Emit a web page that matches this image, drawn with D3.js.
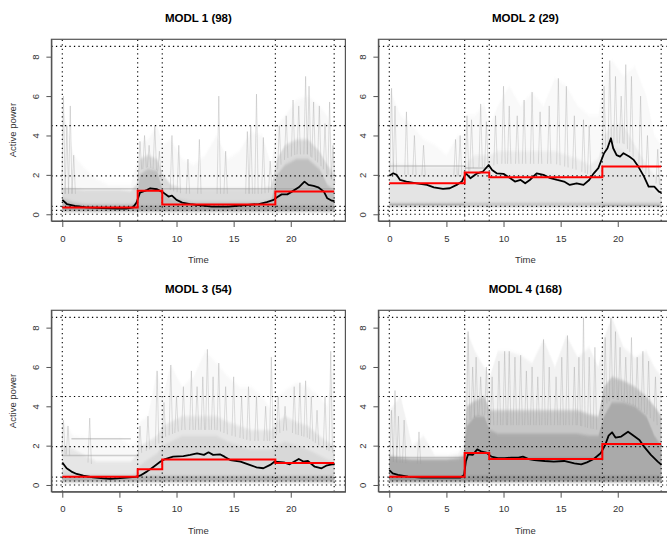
<!DOCTYPE html>
<html>
<head>
<meta charset="utf-8">
<script src="https://cdn.jsdelivr.net/npm/d3@7"></script>
<style>
body{margin:0;background:#fff;}
svg{display:block;font-family:"Liberation Sans",Arial,sans-serif;}
</style>
</head>
<body>
<script>
// etiquetas y ejes
var panelNames = ["MODL 1 (98)", "MODL 2 (29)", "MODL 3 (54)", "MODL 4 (168)"];
var timeTicks = [0, 5, 10, 15, 20];
var powerTicks = [0, 2, 4, 6, 8];
var timeRange = [0, 23.83];
var powerRange = [0, 8.54];
var vCuts = [0, 6.6, 8.75, 18.65, 23.8];
var hCuts = [0, 0.2, 0.4, 1.95, 4.5, 8.52];

// nivel del escalon rojo en cada tramo
var step1 = [0.34, 1.2, 0.49, 1.15];
var step2 = [1.57, 2.12, 1.88, 2.42];
var step3 = [0.42, 0.8, 1.3, 1.12];
var step4 = [0.42, 1.62, 1.32, 2.08];

// curva media (negra): [hora, potencia]
var mean1 = [[0,0.73],[0.4,0.52],[1.1,0.42],[2.1,0.35],[3.5,0.31],[4.8,0.29],[5.6,0.29],[6.2,0.35],[6.5,0.6],[6.8,1.1],[7.4,1.23],[7.7,1.32],[8.3,1.27],[8.85,1.1],[9.3,0.9],[9.6,0.95],[10.0,0.73],[10.5,0.59],[11.2,0.52],[12.1,0.45],[13.1,0.39],[14.5,0.39],[15.1,0.42],[16.0,0.46],[17.2,0.52],[17.9,0.62],[18.5,0.73],[18.8,0.86],[19.2,1.01],[19.7,1.01],[20.1,1.15],[20.7,1.37],[21.2,1.66],[21.55,1.49],[22.0,1.44],[22.4,1.37],[22.9,1.15],[23.2,0.81],[23.6,0.69],[23.83,0.67]];
var mean2 = [[0,1.95],[0.35,2.08],[0.64,2.0],[0.94,1.74],[1.5,1.66],[2.4,1.57],[3.3,1.49],[3.9,1.37],[4.7,1.29],[5.3,1.32],[5.9,1.49],[6.35,1.66],[6.7,2.08],[7.1,1.83],[7.7,2.08],[8.2,2.17],[8.7,2.5],[9.0,2.25],[9.4,2.08],[10.0,2.05],[10.6,1.83],[11.0,1.66],[11.5,1.74],[11.9,1.57],[12.3,1.74],[12.9,2.08],[13.5,2.0],[14.1,1.83],[14.7,1.74],[15.3,1.66],[15.8,1.49],[16.4,1.57],[17.0,1.49],[17.5,1.74],[17.9,2.08],[18.3,2.34],[18.8,3.1],[19.1,3.35],[19.4,3.86],[19.6,3.35],[19.9,3.0],[20.2,2.93],[20.5,3.1],[21.0,2.93],[21.4,2.76],[21.8,2.42],[22.3,1.91],[22.7,1.4],[23.2,1.4],[23.6,1.15],[23.83,1.1]];
var mean3 = [[0,1.14],[0.38,0.85],[0.8,0.68],[1.26,0.56],[1.84,0.47],[2.7,0.39],[3.6,0.34],[4.2,0.31],[4.8,0.34],[5.6,0.37],[6.4,0.41],[6.8,0.47],[7.4,0.68],[8.0,0.93],[8.6,1.19],[9.0,1.32],[9.7,1.44],[10.6,1.47],[11.2,1.53],[11.8,1.61],[12.4,1.53],[12.8,1.66],[13.2,1.53],[13.8,1.56],[14.2,1.44],[14.7,1.27],[15.6,1.19],[16.4,1.02],[17.0,0.9],[17.6,0.85],[18.2,1.02],[18.6,1.19],[19.4,1.15],[19.9,1.05],[20.7,1.32],[21.1,1.19],[21.5,1.22],[22.1,0.93],[22.7,0.85],[23.1,0.98],[23.6,1.05],[23.83,1.05]];
var mean4 = [[0,0.76],[0.3,0.59],[0.76,0.51],[1.64,0.42],[2.8,0.37],[4.9,0.37],[6.2,0.37],[6.55,0.51],[6.7,1.19],[6.9,1.56],[7.3,1.53],[7.7,1.81],[8.1,1.69],[8.5,1.64],[8.95,1.44],[9.5,1.36],[10.1,1.36],[10.7,1.39],[11.3,1.39],[11.7,1.44],[12.2,1.32],[12.7,1.27],[13.6,1.22],[14.4,1.19],[15.3,1.22],[16.2,1.1],[16.8,1.05],[17.3,1.15],[17.9,1.32],[18.5,1.61],[18.9,2.03],[19.2,2.51],[19.5,2.68],[19.8,2.41],[20.3,2.46],[20.9,2.71],[21.3,2.54],[21.9,2.29],[22.3,1.95],[22.9,1.53],[23.5,1.19],[23.83,1.02]];

// nube de perfiles individuales (gris): limites
var cloudT  = [0, 1, 2, 3, 4, 5, 6, 6.5, 6.8, 7.5, 8.3, 8.8, 9.5, 10.5, 11.5, 12.5, 13.5, 14.5, 15.5, 16.5, 17.5, 18.3, 18.8, 19.5, 20.5, 21.5, 22.5, 23.2, 23.83];
var core1   = [0.8, 0.6, 0.5, 0.5, 0.5, 0.5, 0.5, 0.6, 2.0, 2.3, 2.2, 1.2, 0.8, 0.7, 0.6, 0.6, 0.6, 0.6, 0.6, 0.6, 0.6, 0.7, 2.0, 2.5, 2.8, 2.8, 2.3, 1.5, 1.2];
var dense1  = [1.3, 1.3, 1.25, 1.25, 1.25, 1.25, 1.2, 1.5, 2.8, 3.0, 2.8, 2.0, 1.5, 1.3, 1.3, 1.3, 1.3, 1.3, 1.3, 1.3, 1.3, 1.4, 2.8, 3.5, 3.8, 3.8, 3.2, 2.5, 2.0];
var sparse1 = [5.5, 3.0, 2.3, 1.8, 1.5, 1.5, 1.5, 2.5, 3.7, 3.8, 4.5, 3.5, 3.8, 2.8, 2.5, 3.0, 4.0, 2.8, 3.2, 4.2, 4.0, 2.5, 4.5, 5.0, 5.8, 6.0, 5.5, 5.0, 3.0];
var core2   = [1.8, 1.8, 1.6, 1.5, 1.5, 1.5, 1.5, 1.6, 2.0, 2.2, 2.2, 2.0, 2.0, 2.0, 2.0, 2.0, 2.0, 2.0, 1.8, 1.8, 1.8, 2.0, 3.0, 3.5, 3.2, 2.5, 1.6, 1.2, 1.0];
var dense2  = [2.6, 2.5, 2.5, 2.4, 2.4, 2.4, 2.4, 2.4, 2.6, 3.0, 3.0, 3.0, 3.2, 3.2, 3.2, 3.2, 3.2, 3.2, 3.0, 2.8, 2.5, 2.8, 4.0, 4.5, 4.5, 3.5, 2.5, 2.0, 1.8];
var sparse2 = [6.4, 5.0, 4.5, 3.8, 3.5, 3.0, 4.0, 4.0, 5.0, 5.0, 5.6, 4.5, 5.5, 6.5, 5.5, 6.2, 5.5, 6.9, 6.5, 5.5, 5.0, 5.0, 7.0, 7.8, 7.0, 7.5, 6.0, 4.0, 3.5];
var core3   = [0.8, 0.6, 0.5, 0.5, 0.5, 0.5, 0.5, 0.6, 1.0, 1.3, 1.6, 2.0, 2.2, 2.5, 2.5, 2.5, 2.5, 2.2, 2.0, 1.8, 1.8, 1.8, 2.0, 2.2, 2.0, 1.8, 1.5, 1.3, 1.2];
var dense3  = [2.0, 1.8, 1.5, 1.2, 1.2, 1.2, 1.2, 1.5, 2.0, 2.2, 2.5, 3.0, 3.2, 3.5, 3.5, 3.5, 3.5, 3.2, 3.0, 2.8, 2.8, 2.8, 3.2, 3.5, 3.2, 3.0, 2.5, 2.2, 2.0];
var sparse3 = [3.3, 2.5, 2.4, 2.4, 2.4, 2.4, 2.0, 2.2, 3.2, 3.5, 5.8, 4.5, 6.1, 5.0, 5.5, 6.8, 6.2, 5.5, 5.0, 5.0, 4.5, 3.8, 4.5, 4.8, 5.2, 5.0, 4.5, 4.0, 6.5];
var core4   = [1.4, 1.35, 1.3, 1.3, 1.3, 1.3, 1.35, 1.4, 3.0, 3.5, 3.5, 2.8, 2.6, 2.6, 2.6, 2.6, 2.6, 2.6, 2.6, 2.6, 2.5, 2.5, 3.5, 4.2, 4.2, 4.0, 3.5, 2.5, 2.0];
var dense4  = [1.5, 1.4, 1.35, 1.35, 1.35, 1.35, 1.4, 1.5, 4.0, 4.3, 4.5, 3.8, 3.8, 3.8, 3.8, 3.8, 3.8, 3.8, 3.8, 3.8, 3.6, 3.5, 5.0, 5.5, 5.3, 5.0, 4.5, 4.0, 3.5];
var sparse4 = [3.8, 4.5, 2.0, 2.5, 1.5, 1.5, 1.6, 2.0, 7.8, 6.8, 6.0, 5.5, 6.8, 6.8, 6.6, 6.2, 7.4, 6.0, 7.6, 6.5, 7.0, 6.0, 7.5, 8.5, 7.0, 6.5, 6.8, 6.0, 5.5];

// picos aislados: [hora, maximo]
var spikes1 = [[0.1,6.0],[0.4,4.5],[0.7,5.5],[1.0,3.0],[6.8,3.7],[7.2,4.0],[7.6,3.5],[8.1,4.5],[8.5,3.2],[9.6,4.0],[10.2,3.5],[11.0,2.8],[12.0,3.8],[13.7,6.0],[14.3,3.2],[16.2,4.2],[16.5,4.5],[17.0,6.1],[17.6,3.9],[18.2,2.7],[19.0,4.5],[19.6,5.0],[20.2,5.8],[20.7,5.5],[21.3,7.0],[21.6,6.5],[22.0,5.7],[22.5,5.5],[23.0,4.6],[23.4,5.7],[23.7,3.5]];
var spikes2 = [[0.2,6.4],[0.5,5.5],[1.5,5.2],[2.2,4.0],[3.0,3.5],[5.8,3.8],[6.2,4.0],[6.8,5.0],[7.2,4.8],[8.0,5.6],[8.5,4.7],[9.3,5.0],[10.0,6.5],[10.5,5.5],[11.2,5.0],[11.8,5.8],[12.5,6.2],[13.2,5.2],[14.0,5.5],[14.8,6.9],[15.5,6.5],[16.2,5.0],[17.0,4.8],[17.5,4.5],[18.8,6.5],[19.3,7.8],[19.8,7.0],[20.3,6.0],[20.7,7.6],[21.2,7.0],[22.0,6.0],[22.6,4.0],[23.5,3.3]];
var spikes3 = [[0.1,3.3],[0.5,3.0],[2.4,3.4],[6.8,3.0],[7.5,3.5],[8.3,5.8],[8.9,4.2],[9.5,6.1],[10.0,4.5],[10.6,5.0],[11.3,5.8],[11.8,5.0],[12.3,5.5],[12.7,6.9],[13.2,5.5],[13.7,6.2],[14.3,5.0],[15.0,5.5],[15.7,4.5],[16.3,5.0],[17.0,4.5],[17.8,4.0],[18.3,6.5],[18.9,4.5],[19.5,4.0],[20.3,5.0],[20.8,5.2],[21.3,5.3],[21.8,4.5],[22.3,3.8],[23.0,4.5],[23.5,6.8]];
var spikes4 = [[0.2,3.8],[0.5,4.8],[0.8,3.5],[1.3,3.3],[2.6,2.7],[6.9,7.8],[7.3,6.0],[7.6,6.5],[8.0,5.5],[8.5,6.0],[9.0,5.5],[9.6,6.3],[10.1,6.8],[10.5,6.8],[11.0,6.5],[11.5,6.6],[12.0,5.8],[12.5,6.0],[13.0,5.5],[13.5,7.4],[14.0,6.0],[14.6,5.5],[15.1,6.5],[15.6,7.6],[16.2,6.0],[16.6,6.5],[17.0,8.5],[17.5,6.5],[18.0,7.0],[18.9,7.5],[19.4,8.5],[19.8,7.8],[20.2,7.0],[20.7,6.5],[21.2,7.5],[21.7,6.5],[22.2,6.8],[22.7,6.3],[23.3,5.5]];

// perfiles casi constantes: [desde, hasta, potencia]
var flat1 = [[0,6.6,1.3],[8.75,18.65,1.3],[18.65,23.8,1.3]];
var flat2 = [[0,6.6,2.45],[6.6,8.75,2.35],[0,6.6,0.5],[18.65,23.8,0.45]];
var flat3 = [[0.8,6.0,2.35],[0,6.6,1.5]];
var flat4 = [[0,6.6,1.4],[8.75,18.65,1.4]];

// piso de la nube
var floorLo = [0.15, 0.4, 0.15, 0.15];
var floorHi = [0.42, 0.55, 0.45, 0.45];

function main(){
	var width = 667, height = 536;
	var coreAlpha = [0.3, 0.08, 0.14, 0.42];
	var denseAlpha = [0.25, 0.1, 0.15, 0.38];
	var sparseAlpha = [0.06, 0.05, 0.06, 0.1];

	var panels = [
		{name: panelNames[0], step: step1, mean: mean1, core: core1, dense: dense1, sparse: sparse1, spikes: spikes1, flat: flat1},
		{name: panelNames[1], step: step2, mean: mean2, core: core2, dense: dense2, sparse: sparse2, spikes: spikes2, flat: flat2},
		{name: panelNames[2], step: step3, mean: mean3, core: core3, dense: dense3, sparse: sparse3, spikes: spikes3, flat: flat3},
		{name: panelNames[3], step: step4, mean: mean4, core: core4, dense: dense4, sparse: sparse4, spikes: spikes4, flat: flat4}
	];

	//cajas de cada panel (region de dibujo)
	var boxX = [[51.4, 345.4], [378.4, 672.4]];
	var boxY = [[221, 39.3], [491.7, 310.3]];

	var svg = d3.select("body").append("svg")
		.attr("width", width)
		.attr("height", height);

	svg.append("defs").append("filter").attr("id", "soft")
		.attr("x", "-5%").attr("y", "-5%").attr("width", "110%").attr("height", "110%")
		.append("feGaussianBlur").attr("stdDeviation", "0.6 1.6");

	panels.forEach(function(p, i){
		var col = i % 2, row = Math.floor(i / 2);
		// rango extendido 4% como R
		var tx = (timeRange[1] - timeRange[0]) * 0.04;
		var ty = (powerRange[1] - powerRange[0]) * 0.04;
		var x = d3.scaleLinear().domain([timeRange[0] - tx, timeRange[1] + tx]).range(boxX[col]);
		var y = d3.scaleLinear().domain([powerRange[0] - ty, powerRange[1] + ty]).range(boxY[row]);

		var g = svg.append("g");
		var clipId = "clip" + i;
		g.append("clipPath").attr("id", clipId).append("rect")
			.attr("x", boxX[col][0]).attr("y", boxY[row][1])
			.attr("width", boxX[col][1] - boxX[col][0])
			.attr("height", boxY[row][0] - boxY[row][1]);
		var plot = g.append("g").attr("clip-path", "url(#" + clipId + ")");
		var cloud = plot.append("g").attr("filter", "url(#soft)");

		//nube gris
		var idx = d3.range(cloudT.length);
		function band(top){
			return d3.area()
				.x(function(k){return x(cloudT[k]);})
				.y0(function(){return y(floorLo[i]);})
				.y1(function(k){return y(top[k]);})(idx);
		}
		cloud.append("path").attr("d", band(p.sparse))
			.attr("fill", "#808080").attr("fill-opacity", sparseAlpha[i]);
		cloud.append("path").attr("d", band(p.dense))
			.attr("fill", "#808080").attr("fill-opacity", denseAlpha[i]);
		cloud.append("path").attr("d", band(p.core))
			.attr("fill", "#808080").attr("fill-opacity", coreAlpha[i]);
		cloud.append("rect")
			.attr("x", x(timeRange[0])).attr("width", x(timeRange[1]) - x(timeRange[0]))
			.attr("y", y(floorHi[i])).attr("height", y(floorLo[i]) - y(floorHi[i]))
			.attr("fill", "#707070").attr("fill-opacity", 0.4);

		var denseLine = d3.scaleLinear().domain(cloudT).range(p.dense);
		plot.selectAll(".spike").data(p.spikes).enter().append("path")
			.attr("d", function(d){
				return "M" + x(d[0] - 0.15) + "," + y(denseLine(d[0] - 0.15) * 0.8) +
					"L" + x(d[0]) + "," + y(d[1]) +
					"L" + x(d[0] + 0.15) + "," + y(denseLine(d[0] + 0.15) * 0.8);
			})
			.attr("fill", "none").attr("stroke", "#999").attr("stroke-opacity", 0.35).attr("stroke-width", 0.9);

		plot.selectAll(".flat").data(p.flat).enter().append("line")
			.attr("x1", function(d){return x(d[0]);})
			.attr("x2", function(d){return x(d[1]);})
			.attr("y1", function(d){return y(d[2]);})
			.attr("y2", function(d){return y(d[2]);})
			.attr("stroke", "#999").attr("stroke-opacity", 0.45).attr("stroke-width", 1.5);

		//lineas punteadas
		plot.selectAll(".hcut").data(hCuts).enter().append("line")
			.attr("x1", boxX[col][0]).attr("x2", boxX[col][1])
			.attr("y1", function(d){return y(d);}).attr("y2", function(d){return y(d);})
			.attr("stroke", "#000").attr("stroke-width", 1.1).attr("stroke-dasharray", "1.3,3.2");
		plot.selectAll(".vcut").data(vCuts).enter().append("line")
			.attr("x1", function(d){return x(d);}).attr("x2", function(d){return x(d);})
			.attr("y1", boxY[row][0]).attr("y2", boxY[row][1])
			.attr("stroke", "#000").attr("stroke-width", 1.1).attr("stroke-dasharray", "1.3,3.2");

		//media
		var line = d3.line().x(function(d){return x(d[0]);}).y(function(d){return y(d[1]);});
		plot.append("path").attr("d", line(p.mean))
			.attr("fill", "none").attr("stroke", "#000").attr("stroke-width", 1.8).attr("stroke-linejoin", "round");

		//escalon rojo
		var stepPts = [];
		p.step.forEach(function(v, k){
			stepPts.push([vCuts[k], v]);
			stepPts.push([vCuts[k + 1], v]);
		});
		plot.append("path").attr("d", line(stepPts))
			.attr("fill", "none").attr("stroke", "#ff0000").attr("stroke-width", 2);

		//caja
		g.append("rect")
			.attr("x", boxX[col][0]).attr("y", boxY[row][1])
			.attr("width", boxX[col][1] - boxX[col][0])
			.attr("height", boxY[row][0] - boxY[row][1])
			.attr("fill", "none").attr("stroke", "#555").attr("stroke-width", 1.2);

		//ejes
		var xAxis = g.append("g").attr("transform", "translate(0," + boxY[row][0] + ")")
			.call(d3.axisBottom(x).tickValues(timeTicks).tickSize(6).tickPadding(8).tickSizeOuter(0));
		var yAxis = g.append("g").attr("transform", "translate(" + boxX[col][0] + ",0)")
			.call(d3.axisLeft(y).tickValues(powerTicks).tickSize(5).tickSizeOuter(0));
		[xAxis, yAxis].forEach(function(a){
			a.select(".domain").attr("stroke", "#555");
			a.selectAll(".tick line").attr("stroke", "#555");
			a.selectAll("text").attr("font-size", "9.5px").attr("fill", "#333")
				.attr("font-family", "'Liberation Sans', Arial, sans-serif");
		});
		yAxis.selectAll(".tick text")
			.attr("text-anchor", "middle").attr("x", 0).attr("dy", 0)
			.attr("transform", "translate(-16,0) rotate(-90)")
			.attr("y", 0).attr("dominant-baseline", "central");

		var cx = (boxX[col][0] + boxX[col][1]) / 2;
		g.append("text").text(p.name)
			.attr("x", cx).attr("y", boxY[row][1] - 17)
			.attr("text-anchor", "middle").attr("font-weight", "bold").attr("font-size", "11.5px");
		g.append("text").text("Time")
			.attr("x", cx).attr("y", boxY[row][0] + 42)
			.attr("text-anchor", "middle").attr("font-size", "9.5px").attr("fill", "#333");
		if(col === 0){
			g.append("text").text("Active power")
				.attr("transform", "translate(16," + ((boxY[row][0] + boxY[row][1]) / 2) + ") rotate(-90)")
				.attr("text-anchor", "middle").attr("font-size", "9.5px").attr("fill", "#333");
		}
	});
}
main();
</script>
</body>
</html>
